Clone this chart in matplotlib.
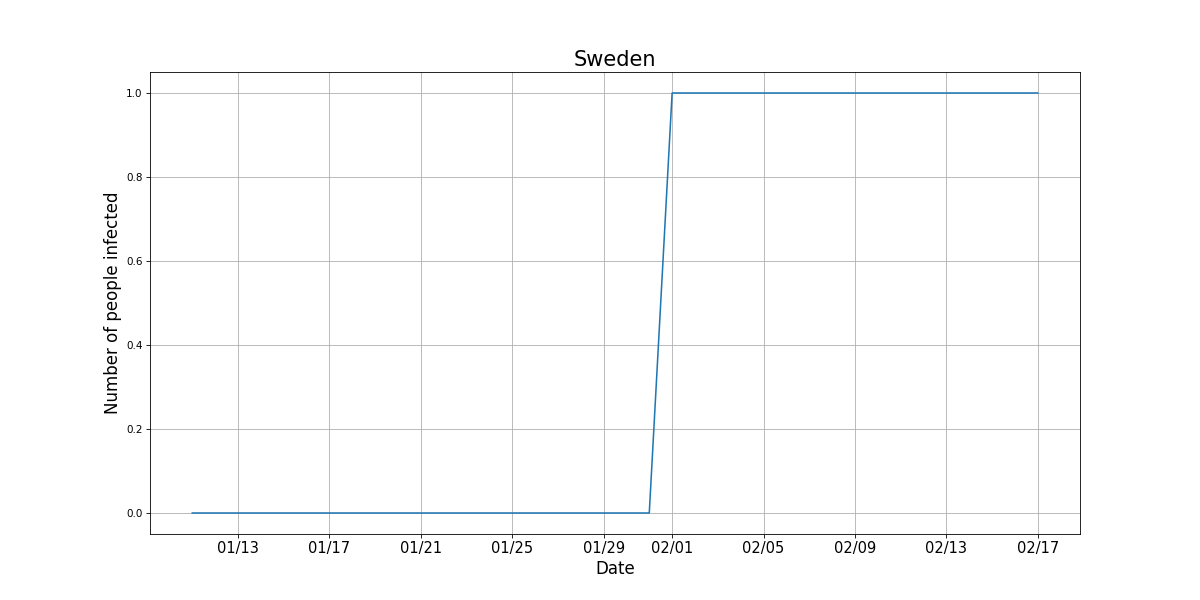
import matplotlib
matplotlib.use("Agg")
import matplotlib.pyplot as plt
import matplotlib.dates as mdates
import pandas as pd

dates = pd.date_range("2020-01-11", "2020-02-17", freq="D")
infected = [0, 0, 0, 0, 0, 0, 0, 0, 0, 0,
            0, 0, 0, 0, 0, 0, 0, 0, 0, 0,
            0,
            1, 1, 1, 1, 1, 1, 1, 1, 1, 1,
            1, 1, 1, 1, 1, 1, 1]

fig, ax = plt.subplots(figsize=(16, 8), dpi=75)
ax.plot(dates, infected, color="#1f77b4")
ax.set_title("Sweden", fontsize=20)
ax.set_xlabel("Date", fontsize=16)
ax.set_ylabel("Number of people infected", fontsize=16)
ax.xaxis.set_major_locator(mdates.DayLocator(bymonthday=[1, 5, 9, 13, 17, 21, 25, 29]))
ax.xaxis.set_major_formatter(mdates.DateFormatter("%m/%d"))
ax.tick_params(axis="x", labelsize=14)
ax.tick_params(axis="y", labelsize=10)
ax.grid(True)
fig.savefig("out.png", dpi=75)
